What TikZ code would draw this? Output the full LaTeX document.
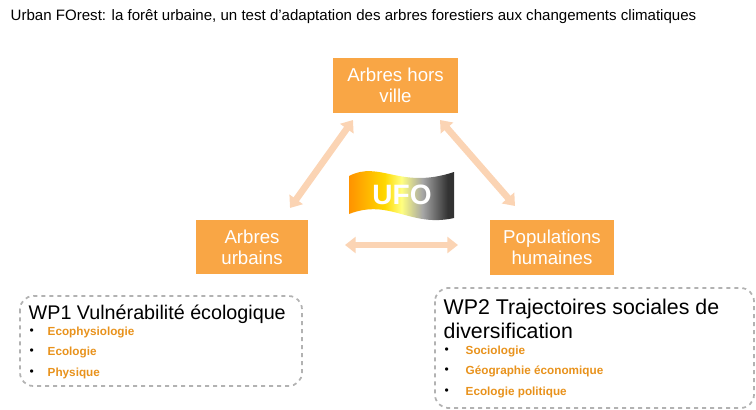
\documentclass[tikz,border=0pt]{standalone}
\usepackage{fontspec}
\setmainfont{Liberation Sans}
\usetikzlibrary{arrows.meta}
\definecolor{boxor}{HTML}{F9A645}
\definecolor{peach}{HTML}{FBD4B4}
\definecolor{txtor}{HTML}{E8921C}
\pgfdeclarehorizontalshading{ufoshade}{100bp}{color(0bp)=(orange!85!yellow); color(25bp)=(orange!85!yellow); color(42bp)=(yellow!70!orange); color(50bp)=(yellow!50!white); color(60bp)=(gray!70); color(72bp)=(black!80); color(100bp)=(black!85)}
\begin{document}
\begin{tikzpicture}[x=0.75pt,y=-0.75pt,
  obox/.style={fill=boxor,text=white,align=center,font=\fontsize{14}{15.5}\selectfont},
  parr/.style={draw=peach,line width=5pt,{Triangle[width=12pt,length=8pt]}-{Triangle[width=12pt,length=8pt]}},
  wpbox/.style={draw=gray!60,dashed,line width=1.3pt,rounded corners=10pt},
  item/.style={anchor=west,text=txtor,font=\bfseries\fontsize{8.8}{10}\selectfont},
  bul/.style={anchor=west,font=\fontsize{9}{10}\selectfont}]
\useasboundingbox (0,0) rectangle (756,410);
\node[anchor=west,font=\fontsize{11.3}{13}\selectfont] (title) at (6,17) {Urban FOrest: la forêt urbaine, un test d'adaptation des arbres forestiers aux changements climatiques};
\node[obox,minimum width=125*0.75pt,minimum height=55*0.75pt] (hv) at (395.5,85.5) {Arbres hors\\ville};
\node[obox,minimum width=112*0.75pt,minimum height=54*0.75pt] (au) at (252,247) {Arbres\\urbains};
\node[obox,minimum width=124*0.75pt,minimum height=55*0.75pt] (ph) at (552,247.5) {Populations\\humaines};
\coordinate (a1) at (353,120); \coordinate (a2) at (290,208);
\coordinate (b1) at (440,120); \coordinate (b2) at (515,206);
\coordinate (c1) at (345,245); \coordinate (c2) at (458,245);
\draw[parr] (a1) -- (a2);
\draw[parr] (b1) -- (b2);
\draw[parr] (c1) -- (c2);
\shade[shading=ufoshade] (349,176) .. controls (380,160) and (400,190) .. (454,172) -- (454,218) .. controls (410,228) and (390,198) .. (349,214) -- cycle;
\node[text=white,font=\bfseries\fontsize{21}{23}\selectfont] (ufo) at (402,195) {UFO};
\draw[wpbox] (20,296) rectangle (302,386);
\node[anchor=west,font=\fontsize{14.8}{17}\selectfont] (wp1) at (24,314) {WP1 Vulnérabilité écologique};
\foreach \y/\t [count=\i] in {332/Ecophysiologie,352/Ecologie,373/Physique}{
  \node[bul] (d\i) at (25,\y) {•};
  \node[item] (e\i) at (43,\y) {\t};}
\draw[wpbox] (435,288) rectangle (754,408);
\node[anchor=west,align=left,font=\fontsize{16}{18.5}\selectfont] (wp2) at (439,319) {WP2 Trajectoires sociales de\\diversification};
\foreach \y/\t [count=\i] in {351/Sociologie,371/Géographie économique,392/Ecologie politique}{
  \node[bul] (f\i) at (440,\y) {•};
  \node[item] (g\i) at (461,\y) {\t};}
\end{tikzpicture}
\end{document}
